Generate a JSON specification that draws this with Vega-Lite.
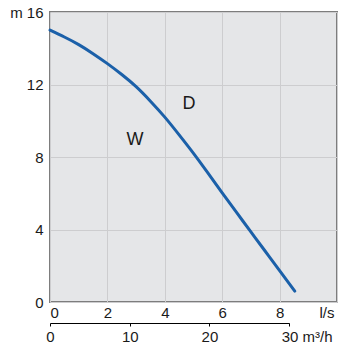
{
  "$schema": "https://vega.github.io/schema/vega-lite/v6.json",
  "width": 287,
  "height": 290,
  "autosize": {"type": "none"},
  "padding": {"left": 50, "top": 12, "right": 5, "bottom": 47},
  "background": "white",
  "config": {
    "view": {"fill": "#e5e6e8", "stroke": "#7d7d7d", "strokeWidth": 2},
    "axis": {"labelFont": "Liberation Sans", "labelFontSize": 15, "labelColor": "#1a1a1a", "gridColor": "#cdcdcf", "gridWidth": 1}
  },
  "datasets": {
    "curve": [
      {"q": 0, "h": 15.0},
      {"q": 0.5, "h": 14.62},
      {"q": 1, "h": 14.2},
      {"q": 1.5, "h": 13.7},
      {"q": 2, "h": 13.15},
      {"q": 2.5, "h": 12.55},
      {"q": 3, "h": 11.88},
      {"q": 3.5, "h": 11.08},
      {"q": 4, "h": 10.2},
      {"q": 4.5, "h": 9.22},
      {"q": 5, "h": 8.2},
      {"q": 5.5, "h": 7.12},
      {"q": 6, "h": 6.02},
      {"q": 6.5, "h": 4.94},
      {"q": 7, "h": 3.87},
      {"q": 7.5, "h": 2.8},
      {"q": 8, "h": 1.73},
      {"q": 8.53, "h": 0.6}
    ],
    "labels": [
      {"q": 2.96, "h": 8.93, "t": "W"},
      {"q": 4.84, "h": 10.92, "t": "D"}
    ],
    "flow": [
      {"m3h": 0},
      {"m3h": 30}
    ]
  },
  "layer": [
    {
      "layer": [
        {
          "data": {"name": "curve"},
          "mark": {"type": "line", "color": "#1b60a9", "strokeWidth": 3, "strokeCap": "round", "interpolate": "natural"},
          "encoding": {
            "x": {
              "field": "q", "type": "quantitative",
              "scale": {"domain": [0, 10], "nice": false},
              "axis": {
                "title": null, "domain": false, "ticks": false, "grid": true,
                "values": [0, 2, 4, 6, 8, 10],
                "labelFont": "Liberation Sans", "labelFontSize": 15,
                "labelPadding": 3,
                "labelExpr": "datum.value == 10 ? 'l/s' : datum.label",
                "labelOffset": {"condition": {"test": "datum.value == 10", "value": -3}, "value": 0}
              }
            },
            "y": {
              "field": "h", "type": "quantitative",
              "scale": {"domain": [0, 16], "nice": false},
              "axis": {
                "title": null, "domain": false, "ticks": false, "grid": true,
                "values": [0, 2, 4, 6, 8, 10, 12, 14, 16],
                "labelFont": "Liberation Sans", "labelFontSize": 15,
                "labelPadding": 7,
                "labelExpr": "datum.value % 4 == 0 ? (datum.value == 16 ? 'm 16' : datum.label) : ''"
              }
            }
          }
        },
        {
          "data": {"name": "labels"},
          "mark": {"type": "text", "font": "Liberation Sans", "fontSize": 18, "color": "#1a1a1a", "align": "center", "baseline": "middle"},
          "encoding": {
            "x": {"field": "q", "type": "quantitative"},
            "y": {"field": "h", "type": "quantitative"},
            "text": {"field": "t"}
          }
        }
      ]
    },
    {
      "data": {"name": "flow"},
      "mark": {"type": "point", "opacity": 0},
      "encoding": {
        "x": {
          "field": "m3h", "type": "quantitative",
          "scale": {"domain": [0, 30], "nice": false, "range": [0, {"expr": "width*30/36"}]},
          "axis": {
            "orient": "bottom", "offset": 21, "title": null, "grid": false,
            "domain": true, "domainColor": "#000000", "domainWidth": 1,
            "ticks": true, "tickColor": "#000000", "tickSize": 3,
            "values": [0, 10, 20, 30],
            "labelFont": "Liberation Sans", "labelFontSize": 15,
            "labelPadding": 3,
            "labelExpr": "datum.value == 30 ? '30 m³/h' : datum.label",
            "labelAlign": {"condition": {"test": "datum.value == 30", "value": "left"}, "value": "center"},
            "labelOffset": {"condition": {"test": "datum.value == 30", "value": -8}, "value": 0}
          }
        }
      }
    }
  ],
  "resolve": {"scale": {"x": "independent"}, "axis": {"x": "independent"}}
}
